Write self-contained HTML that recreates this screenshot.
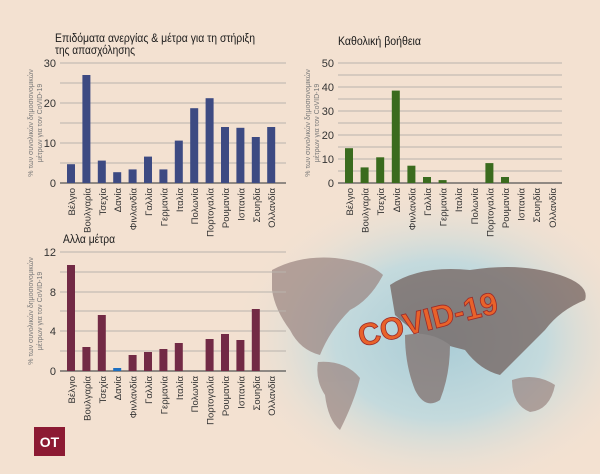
<!DOCTYPE html>
<html><head><meta charset="utf-8"><style>
body{margin:0;width:600px;height:474px;overflow:hidden;background:#f3e1d1}
svg{display:block}
text{font-family:"Liberation Sans","DejaVu Sans",sans-serif}
.t{font-size:11.5px;fill:#1a1a1a}
.yl{font-size:11px;fill:#333;text-anchor:end}
.xl{font-size:9.5px;fill:#333;text-anchor:end}
.ya{font-size:7px;fill:#777;text-anchor:middle}
.g{stroke:#b9b3ad;stroke-width:1}
.ax{stroke:#555;stroke-width:1.2}
</style></head><body>
<svg width="600" height="474" viewBox="0 0 600 474">
<defs>
<radialGradient id="bg" cx="440" cy="340" r="210" gradientUnits="userSpaceOnUse" gradientTransform="translate(440 340) scale(1 0.75) translate(-440 -340)">
<stop offset="0" stop-color="#a9ccd6"/><stop offset="0.5" stop-color="#c4dadd"/><stop offset="1" stop-color="#f3e1d1" stop-opacity="0"/></radialGradient>
</defs>
<rect width="600" height="474" fill="#f3e1d1"/>
<rect x="230" y="180" width="370" height="294" fill="url(#bg)"/>
<g fill="#9a8480" opacity="0.7">
<path d="M272 270 Q300 255 335 258 Q370 262 383 275 Q370 300 350 310 Q330 330 320 355 Q300 350 290 330 Q275 310 272 290Z"/>
<path d="M390 285 Q420 265 470 270 Q520 262 560 275 Q590 285 585 300 Q560 310 545 330 Q520 355 500 375 Q480 370 465 350 Q445 345 430 340 Q410 330 395 315Z" fill="#6e5a56"/>
<path d="M405 335 Q430 330 450 345 Q450 375 440 400 Q425 410 415 390 Q405 365 405 335Z" fill="#7e6a66"/>
<path d="M318 362 Q345 360 360 378 Q355 400 340 430 Q328 420 325 395 Q315 380 318 362Z"/>
<path d="M512 380 Q535 372 555 385 Q550 410 530 412 Q512 405 512 380Z"/>
</g>
<text x="428" y="330" transform="rotate(-14 428 320)" text-anchor="middle" font-size="31" font-weight="bold" fill="#e8622a" stroke="#9a2a2a" stroke-width="0.8" font-family="Liberation Sans,sans-serif">COVID-19</text>

<!-- Chart 1 -->
<text class="t" x="55" y="42" textLength="200" lengthAdjust="spacingAndGlyphs">Επιδόματα ανεργίας &amp; μέτρα για τη στήριξη</text>
<text class="t" x="55" y="54" textLength="80" lengthAdjust="spacingAndGlyphs">της απασχόλησης</text>
<g class="g"><line x1="60" x2="286" y1="63" y2="63"/><line x1="60" x2="286" y1="83" y2="83"/><line x1="60" x2="286" y1="103" y2="103"/><line x1="60" x2="286" y1="123" y2="123"/><line x1="60" x2="286" y1="143" y2="143"/><line x1="60" x2="286" y1="163" y2="163"/></g>
<line class="ax" x1="60" x2="286" y1="183" y2="183"/>
<text class="yl" x="56" y="67">30</text><text class="yl" x="56" y="107">20</text><text class="yl" x="56" y="147">10</text><text class="yl" x="56" y="187">0</text>
<text class="ya" transform="translate(33,123) rotate(-90)">% των συνολικών δημοσιονομικών</text>
<text class="ya" transform="translate(42,123) rotate(-90)">μέτρων για τον CoVID-19</text>
<g fill="#3d4a82">
<rect x="67" y="164.2" width="8" height="18.8"/><rect x="82.4" y="75" width="8" height="108"/><rect x="97.8" y="160.6" width="8" height="22.4"/><rect x="113.2" y="172.2" width="8" height="10.8"/><rect x="128.6" y="169.4" width="8" height="13.6"/><rect x="144" y="156.6" width="8" height="26.4"/><rect x="159.4" y="169.4" width="8" height="13.6"/><rect x="174.8" y="140.6" width="8" height="42.4"/><rect x="190.2" y="108.2" width="8" height="74.8"/><rect x="205.6" y="98.2" width="8" height="84.8"/><rect x="221" y="127" width="8" height="56"/><rect x="236.4" y="127.8" width="8" height="55.2"/><rect x="251.8" y="137" width="8" height="46"/><rect x="267.2" y="127" width="8" height="56"/>
</g>
<g class="xl">
<text transform="translate(75,188) rotate(-90)">Βέλγιο</text><text transform="translate(90.4,188) rotate(-90)">Βουλγαρία</text><text transform="translate(105.8,188) rotate(-90)">Τσεχία</text><text transform="translate(121.2,188) rotate(-90)">Δανία</text><text transform="translate(136.6,188) rotate(-90)">Φινλανδία</text><text transform="translate(152,188) rotate(-90)">Γαλλία</text><text transform="translate(167.4,188) rotate(-90)">Γερμανία</text><text transform="translate(182.8,188) rotate(-90)">Ιταλία</text><text transform="translate(198.2,188) rotate(-90)">Πολωνία</text><text transform="translate(213.6,188) rotate(-90)">Πορτογαλία</text><text transform="translate(229,188) rotate(-90)">Ρουμανία</text><text transform="translate(244.4,188) rotate(-90)">Ισπανία</text><text transform="translate(259.8,188) rotate(-90)">Σουηδία</text><text transform="translate(275.2,188) rotate(-90)">Ολλανδία</text>
</g>

<!-- Chart 2 -->
<text class="t" x="338" y="45" textLength="83" lengthAdjust="spacingAndGlyphs">Καθολική βοήθεια</text>
<g class="g"><line x1="338" x2="562" y1="63" y2="63"/><line x1="338" x2="562" y1="75" y2="75"/><line x1="338" x2="562" y1="87" y2="87"/><line x1="338" x2="562" y1="99" y2="99"/><line x1="338" x2="562" y1="111" y2="111"/><line x1="338" x2="562" y1="123" y2="123"/><line x1="338" x2="562" y1="135" y2="135"/><line x1="338" x2="562" y1="147" y2="147"/><line x1="338" x2="562" y1="159" y2="159"/><line x1="338" x2="562" y1="171" y2="171"/></g>
<line class="ax" x1="338" x2="562" y1="183" y2="183"/>
<text class="yl" x="334" y="67">50</text><text class="yl" x="334" y="91">40</text><text class="yl" x="334" y="115">30</text><text class="yl" x="334" y="139">20</text><text class="yl" x="334" y="163">10</text><text class="yl" x="334" y="187">0</text>
<text class="ya" transform="translate(310,123) rotate(-90)">% των συνολικών δημοσιονομικών</text>
<text class="ya" transform="translate(319,123) rotate(-90)">μέτρων για τον CoVID-19</text>
<g fill="#3a6b1e">
<rect x="345" y="148.2" width="8" height="34.8"/><rect x="360.6" y="167.4" width="8" height="15.6"/><rect x="376.2" y="157.3" width="8" height="25.7"/><rect x="391.8" y="90.6" width="8" height="92.4"/><rect x="407.4" y="165.7" width="8" height="17.3"/><rect x="423" y="177" width="8" height="6"/><rect x="438.6" y="180.1" width="8" height="2.9"/><rect x="485.4" y="163.1" width="8" height="19.9"/><rect x="501" y="177" width="8" height="6"/>
</g>
<g class="xl">
<text transform="translate(353,188) rotate(-90)">Βέλγιο</text><text transform="translate(368.6,188) rotate(-90)">Βουλγαρία</text><text transform="translate(384.2,188) rotate(-90)">Τσεχία</text><text transform="translate(399.8,188) rotate(-90)">Δανία</text><text transform="translate(415.4,188) rotate(-90)">Φινλανδία</text><text transform="translate(431,188) rotate(-90)">Γαλλία</text><text transform="translate(446.6,188) rotate(-90)">Γερμανία</text><text transform="translate(462.2,188) rotate(-90)">Ιταλία</text><text transform="translate(477.8,188) rotate(-90)">Πολωνία</text><text transform="translate(493.4,188) rotate(-90)">Πορτογαλία</text><text transform="translate(509,188) rotate(-90)">Ρουμανία</text><text transform="translate(524.6,188) rotate(-90)">Ισπανία</text><text transform="translate(540.2,188) rotate(-90)">Σουηδία</text><text transform="translate(555.8,188) rotate(-90)">Ολλανδία</text>
</g>

<!-- Chart 3 -->
<text class="t" x="63" y="243" textLength="52" lengthAdjust="spacingAndGlyphs">Αλλα μέτρα</text>
<g class="g"><line x1="60" x2="286" y1="252" y2="252"/><line x1="60" x2="286" y1="272" y2="272"/><line x1="60" x2="286" y1="292" y2="292"/><line x1="60" x2="286" y1="311" y2="311"/><line x1="60" x2="286" y1="331" y2="331"/><line x1="60" x2="286" y1="351" y2="351"/></g>
<line class="ax" x1="60" x2="286" y1="371" y2="371"/>
<text class="yl" x="56" y="256">12</text><text class="yl" x="56" y="296">8</text><text class="yl" x="56" y="335">4</text><text class="yl" x="56" y="375">0</text>
<text class="ya" transform="translate(33,311) rotate(-90)">% των συνολικών δημοσιονομικών</text>
<text class="ya" transform="translate(42,311) rotate(-90)">μέτρων για τον CoVID-19</text>
<g fill="#722a45">
<rect x="67" y="265" width="8" height="106"/><rect x="82.4" y="347" width="8" height="24"/><rect x="97.8" y="315" width="8" height="56"/><rect x="128.6" y="355" width="8" height="16"/><rect x="144" y="352" width="8" height="19"/><rect x="159.4" y="349" width="8" height="22"/><rect x="174.8" y="343" width="8" height="28"/><rect x="205.6" y="339" width="8" height="32"/><rect x="221" y="334" width="8" height="37"/><rect x="236.4" y="340" width="8" height="31"/><rect x="251.8" y="309" width="8" height="62"/>
</g>
<rect x="113.2" y="368" width="8" height="3" fill="#1e6fc0"/>
<g class="xl">
<text transform="translate(75,376) rotate(-90)">Βέλγιο</text><text transform="translate(90.4,376) rotate(-90)">Βουλγαρία</text><text transform="translate(105.8,376) rotate(-90)">Τσεχία</text><text transform="translate(121.2,376) rotate(-90)">Δανία</text><text transform="translate(136.6,376) rotate(-90)">Φινλανδία</text><text transform="translate(152,376) rotate(-90)">Γαλλία</text><text transform="translate(167.4,376) rotate(-90)">Γερμανία</text><text transform="translate(182.8,376) rotate(-90)">Ιταλία</text><text transform="translate(198.2,376) rotate(-90)">Πολωνία</text><text transform="translate(213.6,376) rotate(-90)">Πορτογαλία</text><text transform="translate(229,376) rotate(-90)">Ρουμανία</text><text transform="translate(244.4,376) rotate(-90)">Ισπανία</text><text transform="translate(259.8,376) rotate(-90)">Σουηδία</text><text transform="translate(275.2,376) rotate(-90)">Ολλανδία</text>
</g>

<rect x="34" y="427" width="31" height="29" fill="#8c1a33"/>
<text x="49.5" y="447" text-anchor="middle" font-size="14" font-weight="bold" fill="#fff">OT</text>
</svg>
</body></html>
